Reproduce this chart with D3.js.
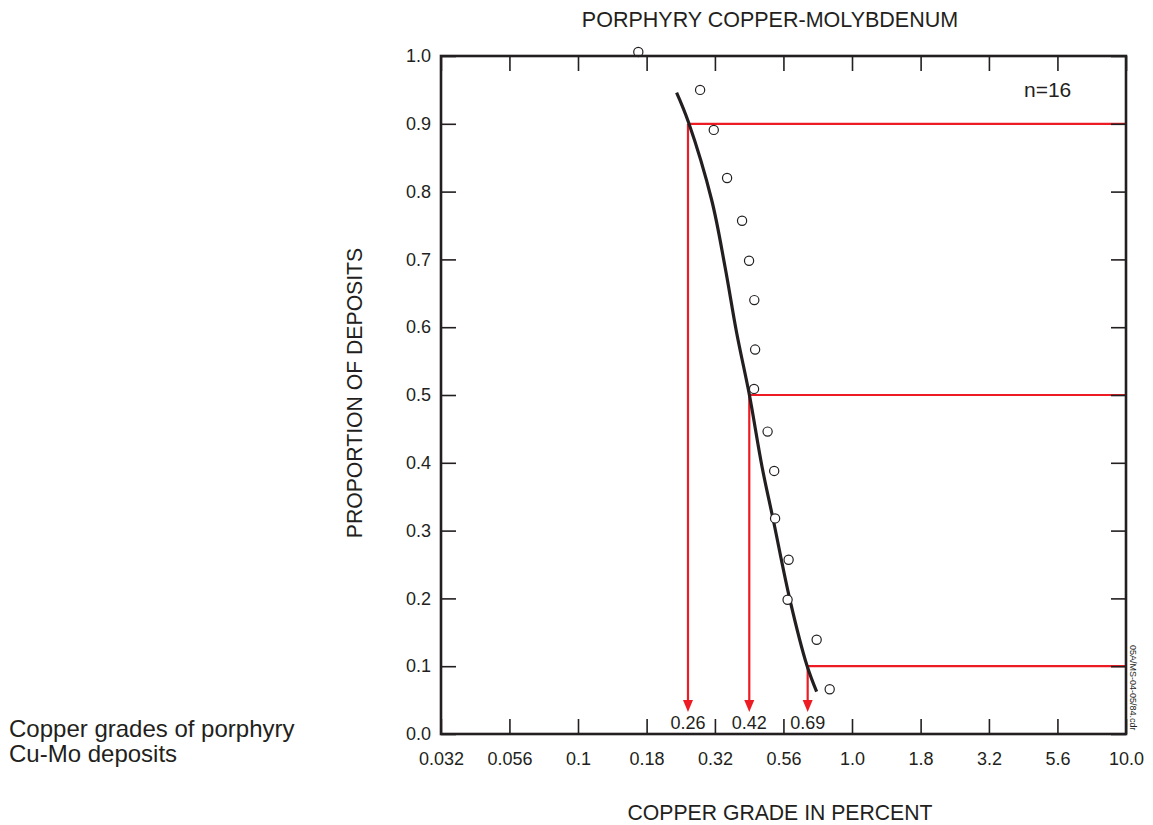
<!DOCTYPE html>
<html>
<head>
<meta charset="utf-8">
<script src="https://d3js.org/d3.v7.min.js"></script>
<style>
  body { margin: 0; background: #fff; }
  svg text { font-family: "Liberation Sans", Arial, sans-serif; fill: #231f20; }
</style>
</head>
<body>
<div id="chart"></div>
<script>
// grade ticks sit on quarter decades, labelled with rounded values
const xTickValues = [0.0316, 0.0562, 0.1, 0.178, 0.316, 0.562, 1, 1.78, 3.16, 5.62, 10];
const xTickLabels = ["0.032", "0.056", "0.1", "0.18", "0.32", "0.56", "1.0", "1.8", "3.2", "5.6", "10.0"];
const yTickValues = [0, 0.1, 0.2, 0.3, 0.4, 0.5, 0.6, 0.7, 0.8, 0.9, 1.0];

// observed deposits (copper grade %, cumulative proportion)
const pointGrades = [0.166, 0.279, 0.313, 0.350, 0.397, 0.421, 0.440, 0.443, 0.439, 0.492, 0.520, 0.524, 0.587, 0.582, 0.743, 0.829];
const pointProps  = [1.006, 0.950, 0.891, 0.820, 0.757, 0.698, 0.640, 0.567, 0.509, 0.446, 0.388, 0.318, 0.257, 0.198, 0.139, 0.066];

// fitted curve
const curveGrades = [0.229, 0.2527, 0.3075, 0.344, 0.3796, 0.4218, 0.4695, 0.5161, 0.5939, 0.684, 0.743];
const curveProps  = [0.946, 0.903, 0.7876, 0.6892, 0.591, 0.501, 0.3942, 0.3156, 0.1976, 0.1018, 0.0624];

// 90th, 50th, 10th percentile read-offs
const pctProps  = [0.9, 0.5, 0.1];
const pctGrades = [0.252, 0.4218, 0.689];
const pctLabels = ["0.26", "0.42", "0.69"];

const width = 1153, height = 825;
const margin = { top: 56, right: 27, bottom: 91, left: 441 };
const ink = "#231f20", red = "#ed1c24";

const svg = d3.select("#chart").append("svg")
    .attr("width", width)
    .attr("height", height);

const x = d3.scaleLog()
    .domain([Math.pow(10, -1.5), 10])
    .range([margin.left, width - margin.right]);

const y = d3.scaleLinear()
    .domain([0, 1])
    .range([height - margin.bottom, margin.top]);

const x0 = x.range()[0], x1 = x.range()[1];
const y0 = y.range()[0], y1 = y.range()[1];

// red percentile lines and arrows
const pct = svg.append("g");
pctProps.forEach((p, i) => {
    const gx = x(pctGrades[i]);
    pct.append("line")
        .attr("x1", gx).attr("x2", x1)
        .attr("y1", y(p)).attr("y2", y(p))
        .attr("stroke", red).attr("stroke-width", 2.2);
    pct.append("line")
        .attr("x1", gx).attr("x2", gx)
        .attr("y1", y(p)).attr("y2", y0 - 32)
        .attr("stroke", red).attr("stroke-width", 2.2);
    pct.append("path")
        .attr("d", `M${gx - 5},${y0 - 34}L${gx + 5},${y0 - 34}L${gx},${y0 - 22}Z`)
        .attr("fill", red);
    svg.append("text")
        .attr("x", gx)
        .attr("y", y0 - 5)
        .attr("text-anchor", "middle")
        .attr("font-size", 18)
        .text(pctLabels[i]);
});

// fitted curve
const line = d3.line()
    .x(d => x(d[0]))
    .y(d => y(d[1]))
    .curve(d3.curveCatmullRom);

svg.append("path")
    .datum(curveGrades.map((g, i) => [g, curveProps[i]]))
    .attr("d", line)
    .attr("fill", "none")
    .attr("stroke", ink)
    .attr("stroke-width", 3.2);

// data points
svg.append("g")
    .selectAll("circle")
    .data(pointGrades.map((g, i) => [g, pointProps[i]]))
    .join("circle")
    .attr("cx", d => x(d[0]))
    .attr("cy", d => y(d[1]))
    .attr("r", 4.6)
    .attr("fill", "#fff")
    .attr("stroke", ink)
    .attr("stroke-width", 1.2);

// axes, ticks pointing inward
function styleAxis(g) {
    g.select(".domain").remove();
    g.selectAll(".tick line").attr("stroke", ink).attr("stroke-width", 1.6);
    g.selectAll(".tick text").attr("font-size", 18).attr("fill", ink);
}

svg.append("g")
    .attr("transform", `translate(0,${y0})`)
    .call(d3.axisBottom(x).tickValues(xTickValues).tickFormat((d, i) => xTickLabels[i])
        .tickSizeInner(-15).tickSizeOuter(0).tickPadding(18))
    .call(styleAxis);

svg.append("g")
    .attr("transform", `translate(0,${y1})`)
    .call(d3.axisTop(x).tickValues(xTickValues).tickFormat("")
        .tickSizeInner(-15).tickSizeOuter(0))
    .call(styleAxis);

svg.append("g")
    .attr("transform", `translate(${x0},0)`)
    .call(d3.axisLeft(y).tickValues(yTickValues).tickFormat(d3.format(".1f"))
        .tickSizeInner(-15).tickSizeOuter(0).tickPadding(10))
    .call(styleAxis);

svg.append("g")
    .attr("transform", `translate(${x1},0)`)
    .call(d3.axisRight(y).tickValues(yTickValues).tickFormat("")
        .tickSizeInner(-15).tickSizeOuter(0))
    .call(styleAxis);

svg.append("rect")
    .attr("x", x0).attr("y", y1)
    .attr("width", x1 - x0).attr("height", y0 - y1)
    .attr("fill", "none")
    .attr("stroke", ink)
    .attr("stroke-width", 2.6);

// titles
svg.append("text")
    .attr("x", 770).attr("y", 27)
    .attr("text-anchor", "middle")
    .attr("font-size", 21.5)
    .text("PORPHYRY COPPER-MOLYBDENUM");

svg.append("text")
    .attr("x", 780).attr("y", 820)
    .attr("text-anchor", "middle")
    .attr("font-size", 21.2)
    .text("COPPER GRADE IN PERCENT");

svg.append("text")
    .attr("transform", `translate(362,393) rotate(-90)`)
    .attr("text-anchor", "middle")
    .attr("font-size", 21.2)
    .text("PROPORTION OF DEPOSITS");

svg.append("text")
    .attr("x", 1024).attr("y", 97)
    .attr("font-size", 21)
    .text("n=16");

svg.append("text")
    .attr("transform", `translate(1130,645) rotate(90)`)
    .attr("font-size", 9)
    .text("05A/MS-04-05/84.cdr");

const caption = svg.append("text")
    .attr("x", 10)
    .attr("font-size", 24);
caption.append("tspan").attr("x", 9).attr("y", 737).text("Copper grades of porphyry");
caption.append("tspan").attr("x", 9).attr("y", 762).text("Cu-Mo deposits");
</script>
</body>
</html>
